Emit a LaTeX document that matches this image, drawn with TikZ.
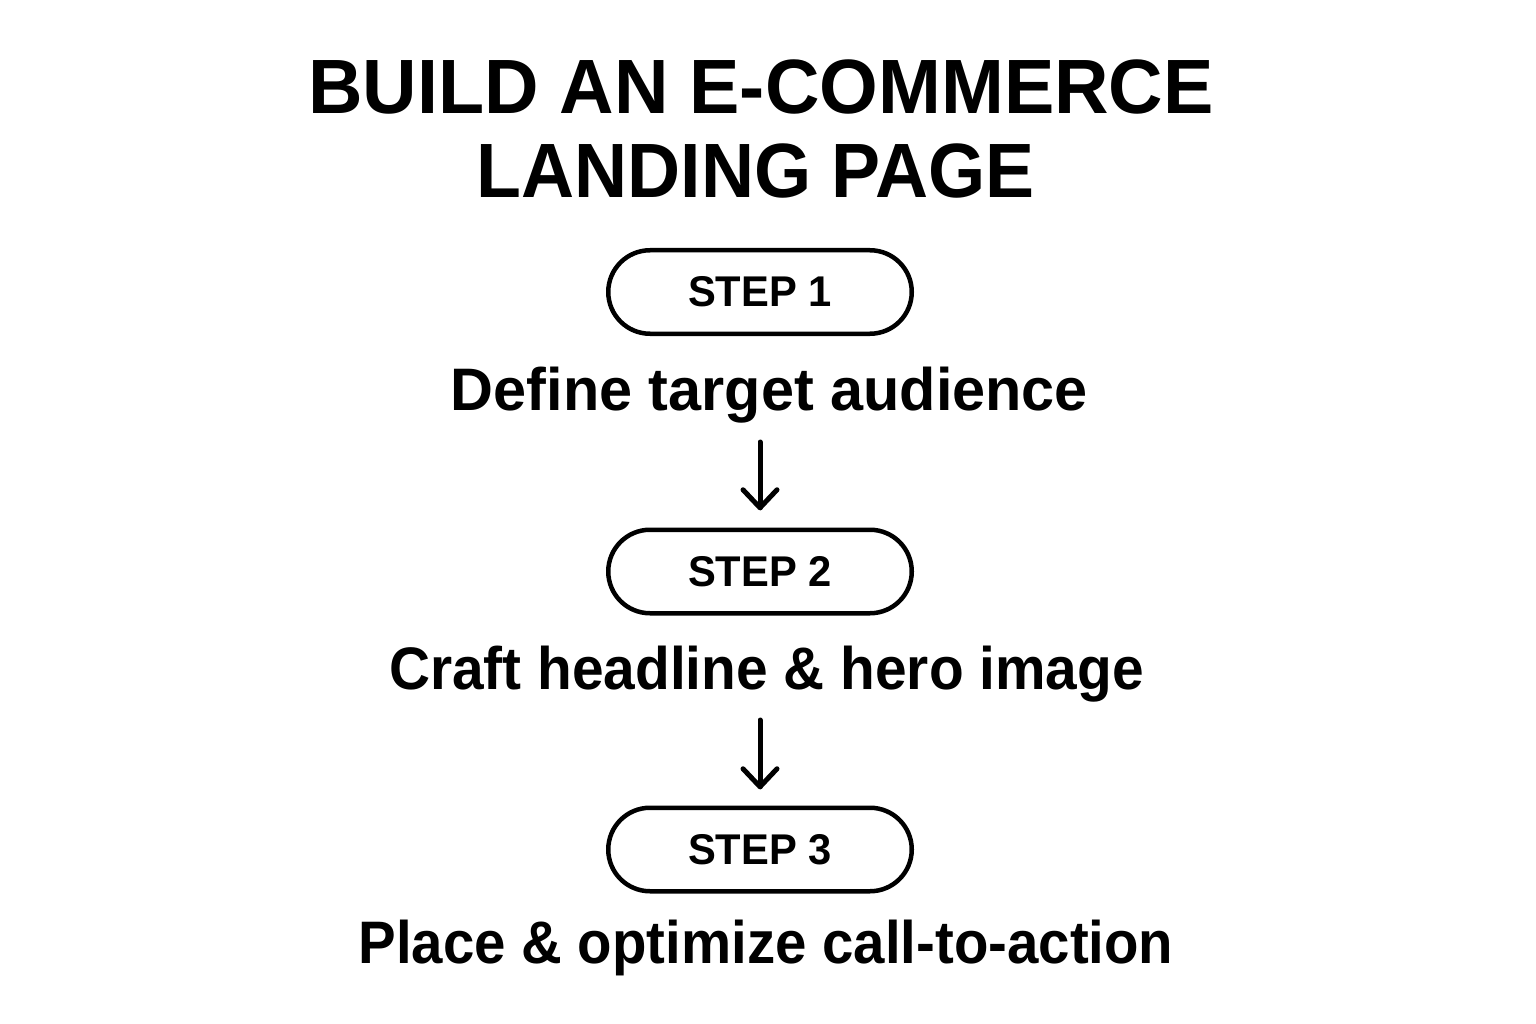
\documentclass[tikz,border=0pt]{standalone}
\usepackage{fontspec}
\usepackage{graphicx}
\setmainfont{Liberation Sans}
\newcommand{\hsq}[2]{\scalebox{#1}[1]{#2}}
\tikzset{
  titletext/.style={anchor=base, font=\fontsize{77}{80}\selectfont\bfseries, inner sep=0pt},
  desctext/.style={anchor=base, font=\fontsize{60}{64}\selectfont\bfseries, inner sep=0pt},
  stepbox/.style={draw, line width=4.5pt, minimum width=303.5pt, minimum height=83.5pt, rounded corners=41.75pt, font=\fontsize{43}{46}\selectfont\bfseries, inner sep=0pt, outer sep=0pt},
  flowline/.style={draw, line width=5pt, line cap=round, line join=round},
}
\begin{document}
\begin{tikzpicture}[x=1pt,y=-1pt]
\useasboundingbox (0,0) rectangle (1536,1024);
\node[titletext] (title1) at (761,114) {\hsq{0.98}{BUILD AN E-COMMERCE}};
\node[titletext] (title2) at (755.5,198) {\hsq{0.954}{LANDING PAGE}};
\node[stepbox] (s1) at (760,292) {\hsq{0.97}{STEP 1}};
\node[desctext] (t1) at (769.5,410) {\hsq{0.99}{Define target audience}};
\node[stepbox] (s2) at (760,571.5) {\hsq{0.97}{STEP 2}};
\node[desctext] (t2) at (766.5,689) {\hsq{0.947}{Craft headline \& hero image}};
\node[stepbox] (s3) at (760,849.5) {\hsq{0.97}{STEP 3}};
\node[desctext] (t3) at (766,963) {\hsq{0.94}{Place \& optimize call-to-action}};
\coordinate (a1s) at ([yshift=-32pt]t1.base -| s1.center);
\coordinate (a1e) at ([yshift=22pt]s2.north);
\coordinate (a2s) at ([yshift=-31pt]t2.base -| s2.center);
\coordinate (a2e) at ([yshift=21pt]s3.north);
\path[flowline] (a1s) -- (a1e);
\path[flowline] (a1e) ++(-17,-18) -- (a1e) -- ++(17,-18);
\path[flowline] (a2s) -- (a2e);
\path[flowline] (a2e) ++(-17,-18) -- (a2e) -- ++(17,-18);
\end{tikzpicture}
\end{document}
